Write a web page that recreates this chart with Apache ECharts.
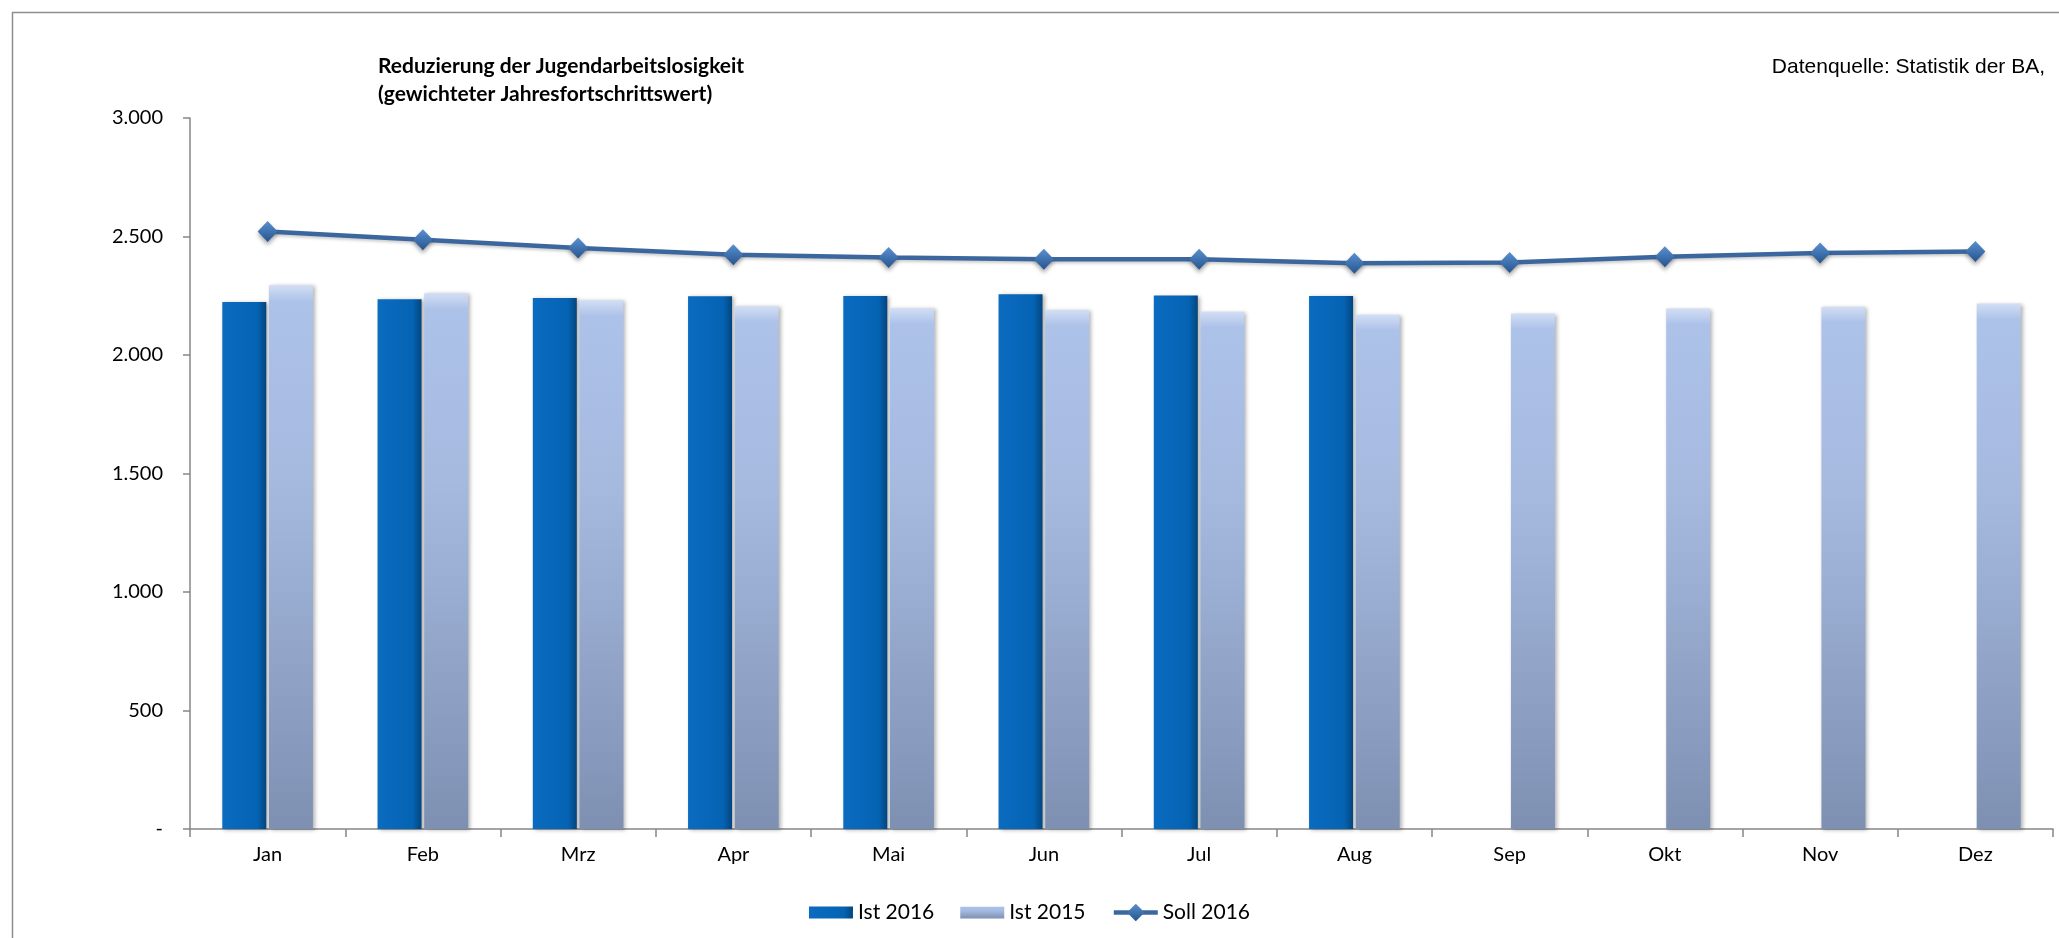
<!DOCTYPE html>
<html>
<head>
<meta charset="utf-8">
<script src="https://cdn.jsdelivr.net/npm/echarts@6/dist/echarts.min.js"></script>
<style>
html,body{margin:0;padding:0;background:#fff;}
#chart{width:2059px;height:938px;}
</style>
</head>
<body>
<div id="chart"></div>
<script>
var categories = ['Jan','Feb','Mrz','Apr','Mai','Jun','Jul','Aug','Sep','Okt','Nov','Dez'];
var ist2016 = [2224, 2235, 2241, 2248, 2249, 2256, 2251, 2249, null, null, null, null];
var ist2015 = [2294, 2261, 2231, 2206, 2197, 2190, 2183, 2170, 2175, 2196, 2204, 2217];
var soll2016 = [2521, 2486, 2451, 2423, 2411, 2404, 2404, 2387, 2390, 2415, 2430, 2437];
var seriesNames = ['Ist 2016', 'Ist 2015', 'Soll 2016'];
var titleLines = ['Reduzierung der Jugendarbeitslosigkeit', '(gewichteter Jahresfortschrittswert)'];
var sourceText = 'Datenquelle: Statistik der BA,';

var chart = echarts.init(document.getElementById('chart'));
var font = 'Lato, "Open Sans", sans-serif';

function fmtY(v) {
  if (v === 0) return '-';
  return String(v).replace(/\B(?=(\d{3})+(?!\d))/g, '.');
}

var blueFill = new echarts.graphic.LinearGradient(0, 0, 1, 0, [
  { offset: 0, color: '#0a6bc0' }, { offset: 0.8, color: '#0563b3' }, { offset: 1, color: '#03457e' }
]);
var lightFill = new echarts.graphic.LinearGradient(0, 0, 0, 1, [
  { offset: 0, color: '#d2def4' }, { offset: 0.03, color: '#adc2e9' }, { offset: 0.35, color: '#a6bae0' }, { offset: 1, color: '#7e90b2' }
]);
var diamondFill = new echarts.graphic.LinearGradient(0, 0, 0, 1, [
  { offset: 0, color: '#5a8fce' }, { offset: 0.5, color: '#3f72b0' }, { offset: 1, color: '#28548c' }
]);
var barIcon = 'path://M0,0H44V12H0Z';

var option = {
  animation: false,
  backgroundColor: '#fff',
  graphic: [
    { type: 'rect', left: 10, top: 10, shape: { width: 2200, height: 1100 }, silent: true,
      style: { fill: 'none', stroke: '#8e8e8e', lineWidth: 1.5 } }
  ],
  title: [
    { text: titleLines.join('\n'), left: 373, top: 47,
      textStyle: { fontFamily: font, fontWeight: 'bold', fontSize: 21, color: '#000', lineHeight: 28 } },
    { text: sourceText, right: 9, top: 52,
      textStyle: { fontFamily: '"Liberation Sans", Arial, sans-serif', fontWeight: 'normal', fontSize: 21, color: '#000' } }
  ],
  legend: {
    left: 'center', top: 897,
    itemWidth: 44, itemHeight: 22, itemGap: 26,
    textStyle: { fontFamily: font, fontSize: 21, color: '#000' },
    data: [
      { name: seriesNames[0], icon: barIcon },
      { name: seriesNames[1], icon: barIcon },
      { name: seriesNames[2], lineStyle: { width: 4.5 } }
    ]
  },
  grid: { left: 190, right: 6, top: 118, bottom: 109, containLabel: false },
  xAxis: {
    type: 'category', data: categories, boundaryGap: true,
    axisLine: { lineStyle: { color: '#868686', width: 1.5 } },
    axisTick: { show: true, interval: 0, length: 8, lineStyle: { color: '#868686', width: 1.5 } },
    axisLabel: { interval: 0, margin: 16, fontFamily: font, fontSize: 20, color: '#000' }
  },
  yAxis: {
    type: 'value', min: 0, max: 3000, interval: 500,
    axisLine: { show: true, lineStyle: { color: '#868686', width: 1.5 } },
    axisTick: { show: true, length: 7, lineStyle: { color: '#868686', width: 1.5 } },
    splitLine: { show: false },
    axisLabel: { margin: 27, fontFamily: font, fontSize: 20, color: '#000', formatter: fmtY }
  },
  series: [
    {
      name: seriesNames[0], type: 'bar', data: ist2016, barWidth: 44, barGap: '6%',
      itemStyle: {
        color: blueFill,
        shadowColor: 'rgba(0,0,0,0.3)', shadowBlur: 4, shadowOffsetX: 2, shadowOffsetY: 1
      }
    },
    {
      name: seriesNames[1], type: 'bar', data: ist2015, barWidth: 44, barGap: '6%',
      itemStyle: {
        color: lightFill,
        shadowColor: 'rgba(0,0,0,0.3)', shadowBlur: 4, shadowOffsetX: 2, shadowOffsetY: 1
      }
    },
    {
      name: seriesNames[2], type: 'line', data: soll2016,
      symbol: 'diamond', symbolSize: [20, 21],
      lineStyle: { color: '#3b679e', width: 4.5, shadowColor: 'rgba(0,0,0,0.2)', shadowBlur: 3, shadowOffsetY: 2 },
      itemStyle: {
        color: diamondFill,
        borderWidth: 0,
        shadowColor: 'rgba(0,0,0,0.35)', shadowBlur: 4, shadowOffsetY: 3
      },
      z: 5
    }
  ]
};
chart.setOption(option);
</script>
</body>
</html>
